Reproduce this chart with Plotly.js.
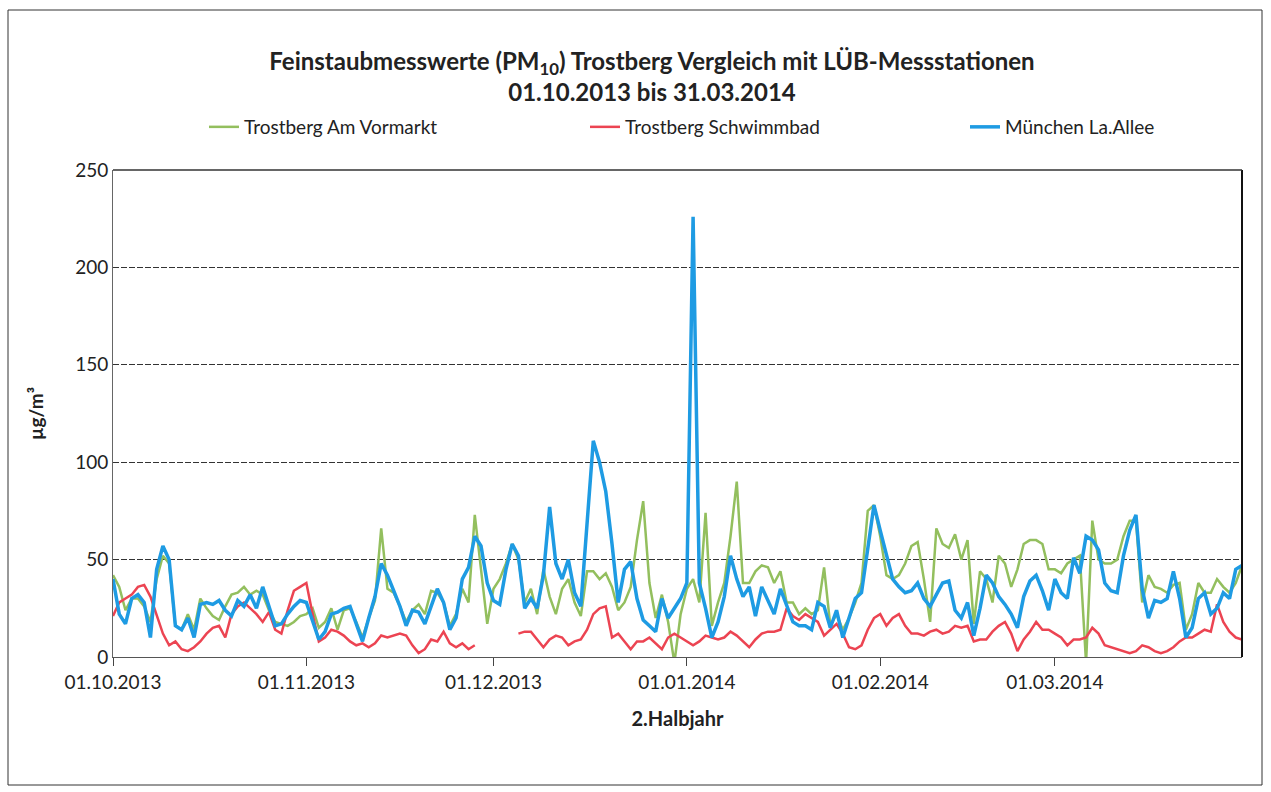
<!DOCTYPE html>
<html>
<head>
<meta charset="utf-8">
<script src="https://cdn.plot.ly/plotly-3.0.1.min.js"></script>
<style>
html,body{margin:0;padding:0;background:#fff;}
#chart{width:1271px;height:792px;}
</style>
</head>
<body>
<div id="chart"></div>
<script>
// Daily values 01.10.2013 .. 31.03.2014 (182 days), µg/m³
const startDate = "2013-10-01";
const nDays = 182;

const vormarkt = [
42,36,24,30,30,26,18,40,52,48,16,14,22,14,30,25,21,19,26,32,33,36,32,34,32,24,18,17,16,18,21,
22,25,15,18,25,14,24,25,18,10,20,29,66,35,33,26,18,24,27,22,34,33,28,16,22,35,28,73,45,
17,35,40,48,58,50,28,35,22,45,31,22,35,40,28,21,44,44,40,43,36,24,28,36,60,80,38,20,32,18,-3,22,
35,40,28,74,16,28,38,62,90,38,38,44,47,46,38,44,28,28,22,25,22,24,46,16,22,14,20,28,38,75,78,
62,42,40,42,48,57,59,40,18,66,58,56,63,50,60,17,44,40,28,52,48,36,45,58,60,60,58,45,
45,43,48,50,52,-3,70,50,48,48,50,62,70,70,28,42,36,35,33,37,38,14,22,38,33,33,40,36,33,38,47
];

const schwimmbad = [
21,28,30,32,36,37,31,21,12,6,8,4,3,5,8,12,15,16,10,22,26,28,25,22,18,23,14,12,24,34,36,
38,22,8,10,14,13,11,8,6,7,5,7,11,10,11,12,11,6,2,4,9,8,13,7,5,7,4,6,null,
null,null,null,null,null,12,13,13,9,5,9,11,10,6,8,9,14,22,25,26,10,12,8,4,8,8,10,7,4,10,12,10,
8,6,8,11,10,9,10,13,11,8,5,9,12,13,13,14,25,21,19,22,20,18,11,14,17,12,5,4,6,14,20,
22,16,20,22,16,12,12,11,13,14,12,13,16,15,16,8,9,9,13,16,18,12,3,9,13,18,14,14,
12,10,6,9,9,10,15,12,6,5,4,3,2,3,6,5,3,2,3,5,8,10,10,12,14,13,27,18,13,10,9
];

const muenchen = [
40,22,17,30,32,28,10,45,57,50,16,14,20,10,27,28,27,29,24,21,29,26,32,25,36,26,16,17,22,26,29,
28,18,9,13,22,23,25,26,17,8,20,31,48,42,34,26,16,24,23,17,26,35,28,14,20,40,46,62,57,
38,29,27,45,58,52,25,30,25,42,77,48,40,50,33,26,70,111,100,85,58,28,45,49,30,19,16,13,30,20,25,30,
38,226,38,25,10,18,31,52,40,31,36,21,36,29,22,35,26,18,16,16,14,28,26,15,24,10,20,30,33,57,78,
65,52,40,36,33,34,38,30,26,32,38,39,24,20,28,11,25,42,38,31,27,22,15,31,39,42,34,24,
40,33,30,51,43,62,60,55,38,34,33,52,65,73,35,20,29,28,30,44,30,10,15,30,33,22,25,33,30,45,47
];

const seriesNames = ["Trostberg Am Vormarkt", "Trostberg Schwimmbad", "München La.Allee"];
const tickVals = ["2013-10-01","2013-11-01","2013-12-01","2014-01-01","2014-02-01","2014-03-01"];
const tickText = ["01.10.2013","01.11.2013","01.12.2013","01.01.2014","01.02.2014","01.03.2014"];
const yTicks = [0,50,100,150,200,250];

// build date categories
const dates = [];
{
  const d0 = new Date(startDate + "T00:00:00Z");
  for (let i = 0; i < nDays; i++) {
    const d = new Date(d0.getTime() + i * 86400000);
    dates.push(d.toISOString().slice(0,10));
  }
}

const FONT = "Lato, 'Open Sans', 'Liberation Sans', sans-serif";

const traces = [
  {x: dates, y: vormarkt, name: seriesNames[0], type: "scatter", mode: "lines",
   line: {color: "#93BF5E", width: 2.5}, connectgaps: false, legend: "legend"},
  {x: dates, y: schwimmbad, name: seriesNames[1], type: "scatter", mode: "lines",
   line: {color: "#EC4452", width: 2.5}, connectgaps: false, legend: "legend2"},
  {x: dates, y: muenchen, name: seriesNames[2], type: "scatter", mode: "lines",
   line: {color: "#1E9BE3", width: 3.5}, connectgaps: false, legend: "legend3"}
];

// pixel layout helpers
const L = 113, R = 1242, T = 170, B = 657, W = 1271, H = 792;
const px2paperX = p => (p - L) / (R - L);
const px2paperY = p => (B - p) / (B - T);

function legendAt(px) {
  return {
    orientation: "h",
    x: px2paperX(px), xanchor: "left",
    y: px2paperY(127), yanchor: "middle",
    font: {family: FONT, size: 19, color: "#222"},
    bgcolor: "rgba(0,0,0,0)",
    borderwidth: 0
  };
}

const layout = {
  width: W, height: H,
  margin: {l: L, r: W - R, t: T, b: H - B},
  paper_bgcolor: "#ffffff",
  plot_bgcolor: "#ffffff",
  font: {family: FONT, color: "#222", size: 19},
  title: {
    text: "<b>Feinstaubmesswerte (PM<sub>10</sub>) Trostberg Vergleich mit LÜB-Messstationen</b><br><b>01.10.2013 bis 31.03.2014</b>",
    font: {family: FONT, size: 24, color: "#222"},
    x: 652 / W, xref: "container", xanchor: "center",
    y: 1 - 70 / H, yref: "container", yanchor: "middle"
  },
  showlegend: true,
  legend: legendAt(204),
  legend2: legendAt(585),
  legend3: legendAt(965),
  xaxis: {
    type: "date",
    range: ["2013-10-01", "2014-03-31"],
    tickvals: tickVals, ticktext: tickText,
    tickfont: {family: FONT, size: 19, color: "#222"},
    ticks: "outside", ticklen: 8, tickcolor: "#444",
    showgrid: false,
    showline: true, linecolor: "#555", linewidth: 1,
    zeroline: false,
    title: {text: "<b>2.Halbjahr</b>", font: {family: FONT, size: 20, color: "#222"}, standoff: 20}
  },
  yaxis: {
    range: [0, 250],
    tickvals: yTicks,
    tickfont: {family: FONT, size: 19, color: "#222"},
    ticks: "",
    showgrid: true, gridcolor: "#333", gridwidth: 1, griddash: "6px,2px",
    showline: true, linecolor: "#666", linewidth: 1,
    zeroline: false,
    title: {text: "<b>µg/m³</b>", font: {family: FONT, size: 19, color: "#222"}, standoff: 26}
  },
  shapes: [
    {type: "rect", xref: "paper", yref: "paper",
     x0: px2paperX(8), x1: px2paperX(1262), y0: px2paperY(785), y1: px2paperY(10),
     line: {color: "#333", width: 1}, fillcolor: "rgba(0,0,0,0)", layer: "below"},
    {type: "line", xref: "paper", yref: "paper", x0: 1, x1: 1, y0: 0, y1: 1,
     line: {color: "#111", width: 2}},
    {type: "line", xref: "paper", yref: "paper", x0: 0, x1: 1, y0: 1, y1: 1,
     line: {color: "#333", width: 1.5}}
  ]
};

Plotly.newPlot("chart", traces, layout, {displayModeBar: false, staticPlot: true});
</script>
</body>
</html>
